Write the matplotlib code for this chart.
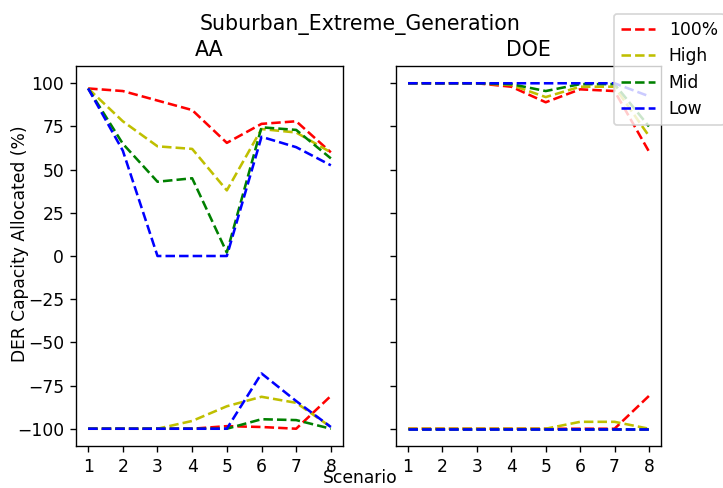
import matplotlib
matplotlib.use('Agg')
import matplotlib.pyplot as plt

scenarios = [1, 2, 3, 4, 5, 6, 7, 8]
labels = ['100%', 'High', 'Mid', 'Low']
colors = ['r', 'y', 'g', 'b']

# AA panel: upper (max) and lower (min) allocation per level
aa_upper = {
    '100%': [97, 95.5, 90, 84.5, 65.5, 76.5, 78, 60],
    'High': [97, 78, 63.5, 62, 38, 73.5, 71.5, 60],
    'Mid': [97, 65, 43, 45, 2, 74.5, 73, 56.5],
    'Low': [97, 61, 0, 0, 0, 69, 63, 52.5],
}
aa_lower = {
    '100%': [-100, -100, -100, -100, -98.5, -99, -100, -81],
    'High': [-100, -100, -100, -95.5, -87, -81.5, -85, -99],
    'Mid': [-100, -100, -100, -100, -100, -94.5, -95, -100],
    'Low': [-100, -100, -100, -100, -100, -68, -84, -99],
}

# DOE panel
doe_upper = {
    '100%': [100, 100, 100, 98, 89, 96.5, 95.5, 60.5],
    'High': [100, 100, 100, 99, 92, 98, 98, 69.5],
    'Mid': [100, 100, 100, 99.5, 95.5, 99.5, 99.5, 75],
    'Low': [100, 100, 100, 100, 100, 100, 100, 92.5],
}
doe_lower = {
    '100%': [-100, -100, -100, -100, -100, -100, -100, -81],
    'High': [-100, -100, -100, -100, -100, -96, -96, -100],
    'Mid': [-100, -100, -100, -100, -100, -100, -100, -100],
    'Low': [-100, -100, -100, -100, -100, -100, -100, -100],
}

DPI = 123


def main():
    fig = plt.figure(figsize=(723 / DPI, 488 / DPI), dpi=DPI)
    ax1 = fig.add_axes([76 / 723, 1 - 446 / 488, 267 / 723, 380 / 488])
    ax2 = fig.add_axes([396 / 723, 1 - 446 / 488, 265 / 723, 380 / 488], sharey=ax1)

    for lab, c in zip(labels, colors):
        ax1.plot(scenarios, aa_upper[lab], '--', color=c, label=lab)
        ax1.plot(scenarios, aa_lower[lab], '--', color=c)
        ax2.plot(scenarios, doe_upper[lab], '--', color=c)
        ax2.plot(scenarios, doe_lower[lab], '--', color=c)

    ax1.set_title('AA')
    ax2.set_title('DOE')
    for ax in (ax1, ax2):
        ax.set_xticks(scenarios)
    ax1.set_yticks([-100, -75, -50, -25, 0, 25, 50, 75, 100])
    plt.setp(ax2.get_yticklabels(), visible=False)

    fig.suptitle('Suburban_Extreme_Generation', x=360 / 723, y=1 - 14 / 488)
    # shared axis labels as plain figure text
    fig.text(360 / 723, 1 / 488, 'Scenario', ha='center', va='bottom')
    fig.text(20 / 723, 0.5, 'DER Capacity Allocated (%)', ha='center', va='center',
             rotation='vertical')
    fig.legend(loc='upper left', bbox_to_anchor=(614 / 723, 1 - 14 / 488), borderaxespad=0)

    fig.savefig('out.png', dpi=DPI)


if __name__ == "__main__":
    main()
